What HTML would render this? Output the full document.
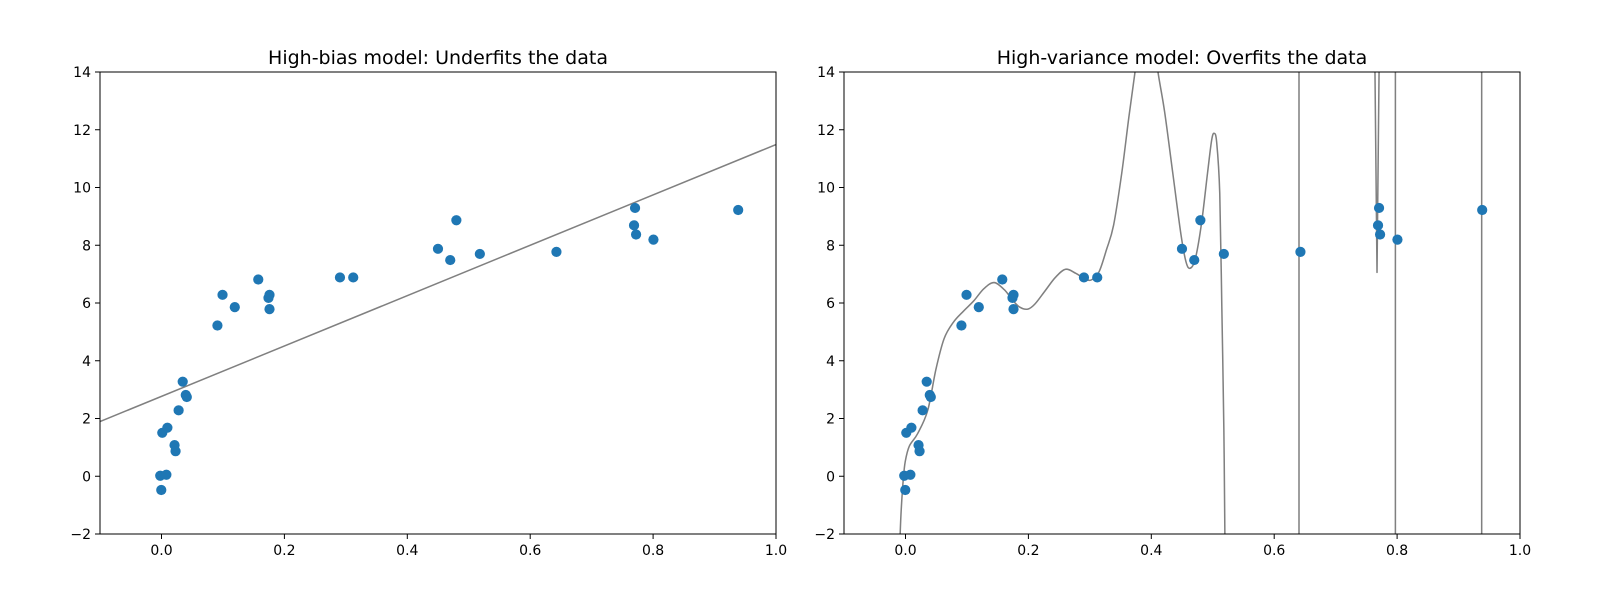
<!DOCTYPE html>
<html><head><meta charset="utf-8"><style>
html,body{margin:0;padding:0;background:#fff;}
svg text{font-family:"DejaVu Sans","Liberation Sans",sans-serif;fill:#000;}
</style></head><body>
<svg width="1600" height="600" viewBox="0 0 1600 600" xmlns="http://www.w3.org/2000/svg">
<defs>
<clipPath id="cl"><rect x="100" y="72" width="676" height="462"/></clipPath>
<clipPath id="cr"><rect x="844" y="72" width="676" height="462"/></clipPath>
<g id="pts" fill="#1f77b4">
<circle cx="157" cy="466" r="5"/><circle cx="163" cy="465" r="5"/><circle cx="158" cy="480" r="5"/><circle cx="159" cy="424" r="5"/><circle cx="164" cy="419" r="5"/><circle cx="171" cy="436" r="5"/><circle cx="172" cy="442" r="5"/><circle cx="175" cy="402" r="5"/><circle cx="179" cy="374" r="5"/><circle cx="182" cy="387" r="5"/><circle cx="183" cy="389" r="5"/><circle cx="213" cy="319" r="5"/><circle cx="218" cy="289" r="5"/><circle cx="230" cy="301" r="5"/><circle cx="253" cy="274" r="5"/><circle cx="263" cy="292" r="5"/><circle cx="264" cy="289" r="5"/><circle cx="264" cy="303" r="5"/><circle cx="333" cy="272" r="5"/><circle cx="346" cy="272" r="5"/><circle cx="429" cy="244" r="5"/><circle cx="441" cy="255" r="5"/><circle cx="447" cy="216" r="5"/><circle cx="470" cy="249" r="5"/><circle cx="545" cy="247" r="5"/><circle cx="621" cy="221" r="5"/><circle cx="622" cy="204" r="5"/><circle cx="623" cy="230" r="5"/><circle cx="640" cy="235" r="5"/><circle cx="723" cy="206" r="5"/>
</g>
</defs>
<g clip-path="url(#cl)">
<g transform="translate(100,72) scale(1.0211,1.0221) translate(-98,-71)">
<line x1="98" y1="413" x2="760" y2="142" stroke="#808080" stroke-width="1.5"/>
<use href="#pts"/>
</g>
</g>
<rect x="100" y="72" width="676" height="462" fill="none" stroke="#000" stroke-width="1"/>
<g clip-path="url(#cr)">
<g transform="translate(844,72) scale(1.0211,1.0221) translate(-98,-71)">
<g fill="none" stroke="#808080" stroke-width="1.5" stroke-linejoin="round">
<polyline id="curve" points="152.5,540 153,523 154,500 156,470 158,452 162,437 170,425 180,402 188,362 196,332 205,316 215,305 225,295 235,283 245,277 255,284 263,294 270,301 278,303 285,298 295,285 305,272 315,264 325,268 335,274 341,274 348,266 355,245 362,221 370,170 377,115 383,71 388,40 395,30 402,40 405.5,71 412,110 420,170 428,230 433,257 437,263 442,254 448,220 454,170 458,138 460.5,131 463,140 466,190 468,300 470,420 471,523 471.5,540"/>
<line x1="543.6" y1="60" x2="543.6" y2="540"/>
<polyline points="618,60 618,71 620,267 622,71 622,60"/>
<line x1="638" y1="60" x2="638" y2="540"/>
<line x1="722.5" y1="60" x2="722.5" y2="540"/>
</g>
<use href="#pts"/>
</g>
</g>
<rect x="844" y="72" width="676" height="462" fill="none" stroke="#000" stroke-width="1"/>
<g stroke="#000" stroke-width="1">
<line x1="161.5" y1="534" x2="161.5" y2="539"/><line x1="284.4" y1="534" x2="284.4" y2="539"/><line x1="407.3" y1="534" x2="407.3" y2="539"/><line x1="530.2" y1="534" x2="530.2" y2="539"/><line x1="653.1" y1="534" x2="653.1" y2="539"/><line x1="776" y1="534" x2="776" y2="539"/>
<line x1="905.5" y1="534" x2="905.5" y2="539"/><line x1="1028.4" y1="534" x2="1028.4" y2="539"/><line x1="1151.3" y1="534" x2="1151.3" y2="539"/><line x1="1274.2" y1="534" x2="1274.2" y2="539"/><line x1="1397.1" y1="534" x2="1397.1" y2="539"/><line x1="1520" y1="534" x2="1520" y2="539"/>
<line x1="95" y1="72" x2="100" y2="72"/><line x1="95" y1="129.75" x2="100" y2="129.75"/><line x1="95" y1="187.5" x2="100" y2="187.5"/><line x1="95" y1="245.25" x2="100" y2="245.25"/><line x1="95" y1="303" x2="100" y2="303"/><line x1="95" y1="360.75" x2="100" y2="360.75"/><line x1="95" y1="418.5" x2="100" y2="418.5"/><line x1="95" y1="476.25" x2="100" y2="476.25"/><line x1="95" y1="534" x2="100" y2="534"/>
<line x1="839" y1="72" x2="844" y2="72"/><line x1="839" y1="129.75" x2="844" y2="129.75"/><line x1="839" y1="187.5" x2="844" y2="187.5"/><line x1="839" y1="245.25" x2="844" y2="245.25"/><line x1="839" y1="303" x2="844" y2="303"/><line x1="839" y1="360.75" x2="844" y2="360.75"/><line x1="839" y1="418.5" x2="844" y2="418.5"/><line x1="839" y1="476.25" x2="844" y2="476.25"/><line x1="839" y1="534" x2="844" y2="534"/>
</g>
<g font-size="14" text-anchor="middle">
<text x="161.5" y="555">0.0</text><text x="284.4" y="555">0.2</text><text x="407.3" y="555">0.4</text><text x="530.2" y="555">0.6</text><text x="653.1" y="555">0.8</text><text x="776" y="555">1.0</text>
<text x="905.5" y="555">0.0</text><text x="1028.4" y="555">0.2</text><text x="1151.3" y="555">0.4</text><text x="1274.2" y="555">0.6</text><text x="1397.1" y="555">0.8</text><text x="1520" y="555">1.0</text>
</g>
<g font-size="14" text-anchor="end">
<text x="91" y="77">14</text><text x="91" y="134.75">12</text><text x="91" y="192.5">10</text><text x="91" y="250.25">8</text><text x="91" y="308">6</text><text x="91" y="365.75">4</text><text x="91" y="423.5">2</text><text x="91" y="481.25">0</text><text x="91" y="539">−2</text>
<text x="835" y="77">14</text><text x="835" y="134.75">12</text><text x="835" y="192.5">10</text><text x="835" y="250.25">8</text><text x="835" y="308">6</text><text x="835" y="365.75">4</text><text x="835" y="423.5">2</text><text x="835" y="481.25">0</text><text x="835" y="539">−2</text>
</g>
<text x="438" y="64" font-size="19" text-anchor="middle">High-bias model: Underfits the data</text>
<text x="1182" y="64" font-size="19" text-anchor="middle">High-variance model: Overfits the data</text>
</svg>
<script>
(function(){
var pl=document.getElementById('curve');if(!pl)return;
var p=pl.getAttribute('points').trim().split(/\s+/).map(function(s){var a=s.split(',');return [+a[0],+a[1]];});
var d='M'+p[0][0]+','+p[0][1];
for(var i=0;i<p.length-1;i++){
var p0=p[i>0?i-1:i],p1=p[i],p2=p[i+1],p3=p[i+2<p.length?i+2:i+1];
var c1x=p1[0]+(p2[0]-p0[0])/6,c1y=p1[1]+(p2[1]-p0[1])/6;
var c2x=p2[0]-(p3[0]-p1[0])/6,c2y=p2[1]-(p3[1]-p1[1])/6;
d+=' C'+c1x.toFixed(2)+','+c1y.toFixed(2)+' '+c2x.toFixed(2)+','+c2y.toFixed(2)+' '+p2[0]+','+p2[1];
}
var path=document.createElementNS('http://www.w3.org/2000/svg','path');
path.setAttribute('d',d);
pl.parentNode.replaceChild(path,pl);
})();
</script>
</body></html>
